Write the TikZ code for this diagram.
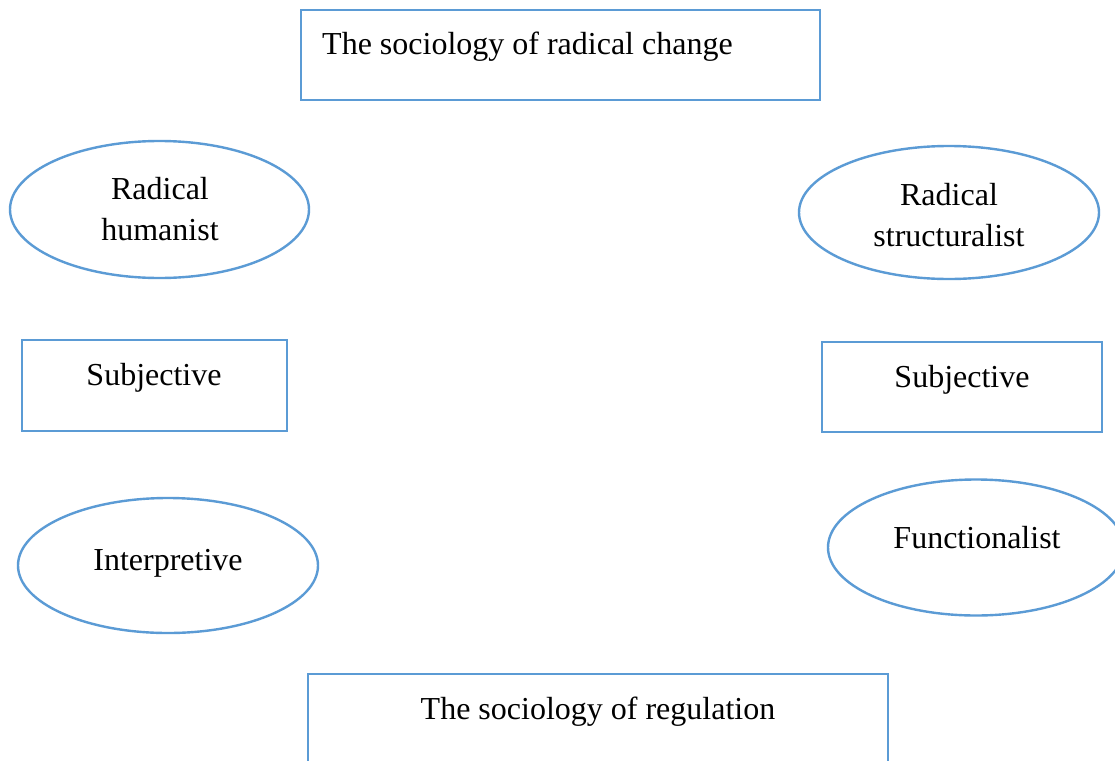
\documentclass[tikz,border=0pt]{standalone}
\usepackage{fontspec}
\setmainfont{Liberation Serif}
\usetikzlibrary{shapes.geometric}
\definecolor{wordblue}{RGB}{91,155,213}
\tikzset{
  boxshape/.style={draw=wordblue, line width=2.4pt, rectangle, inner sep=0pt, minimum width=#1},
  ellshape/.style={draw=wordblue, line width=2.4pt, ellipse, inner sep=0pt},
  lbl/.style={font=\fontsize{32}{40}\selectfont, inner sep=0pt, align=center, text=black},
}
\begin{document}
\begin{tikzpicture}[x=1pt,y=-1pt]
\useasboundingbox (0,0) rectangle (1115,760);
\fill[white] (0,0) rectangle (1115,760);
\clip (0,0) rectangle (1115,760);

% shapes
\node[boxshape=519pt, minimum height=90pt] (top) at (560.5,55) {};
\node[ellshape, minimum width=299pt, minimum height=137pt] (rh) at (159.5,209.5) {};
\node[ellshape, minimum width=300pt, minimum height=133pt] (rs) at (949,212.5) {};
\node[boxshape=265pt, minimum height=91pt] (subl) at (154.5,385.5) {};
\node[boxshape=280pt, minimum height=90pt] (subr) at (962,387) {};
\node[ellshape, minimum width=300pt, minimum height=135pt] (interp) at (168,565.5) {};
\node[ellshape, minimum width=296pt, minimum height=136pt] (func) at (976,547.5) {};
\node[boxshape=580pt, minimum height=140pt] (bot) at (598,744) {};

% texts
\node[lbl, anchor=base west] (ttop) at (322,55) {The sociology of radical change};
\node[lbl, anchor=base] (trh1) at (160,199) {Radical};
\node[lbl, anchor=base] (trh2) at (160,240) {humanist};
\node[lbl, anchor=base] (trs1) at (949,205) {Radical};
\node[lbl, anchor=base] (trs2) at (949,246) {structuralist};
\node[lbl, anchor=base] (tsubl) at (154,385) {Subjective};
\node[lbl, anchor=base] (tsubr) at (962,387) {Subjective};
\node[lbl, anchor=base] (tinterp) at (168,570) {Interpretive};
\node[lbl, anchor=base] (tfunc) at (977,548) {Functionalist};
\node[lbl, anchor=base] (tbot) at (598,719) {The sociology of regulation};
\end{tikzpicture}
\end{document}
